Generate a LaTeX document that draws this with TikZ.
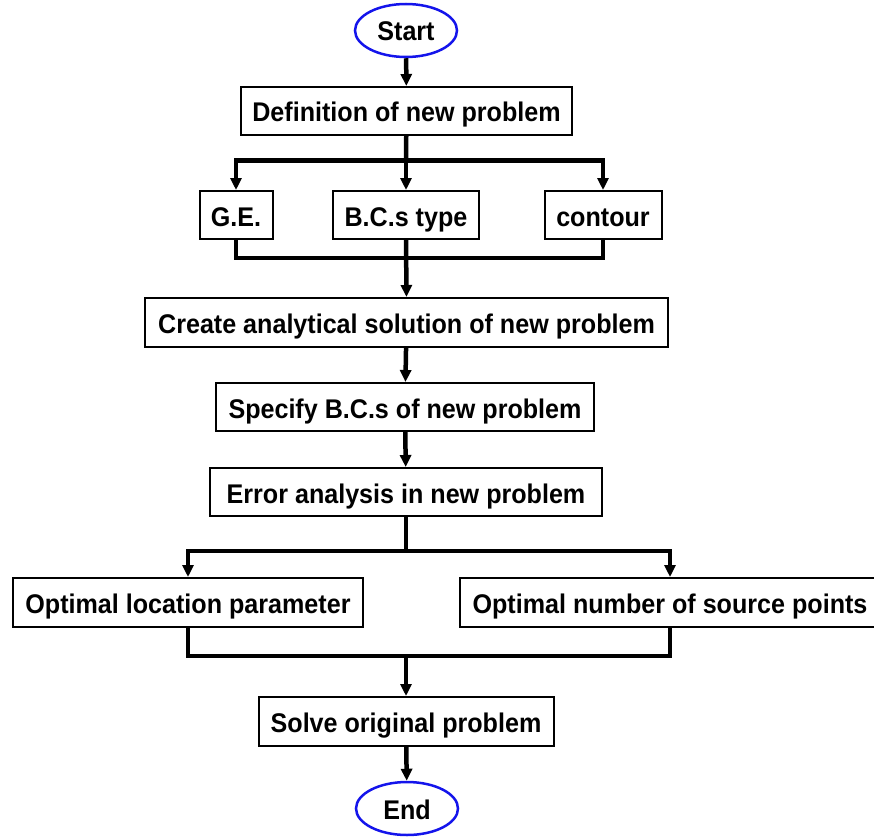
\documentclass[tikz,border=0pt]{standalone}
\usepackage{fontspec}
\setmainfont{Liberation Sans}[FakeStretch=0.93]
\usetikzlibrary{arrows.meta,shapes.geometric}
\tikzset{
  stepbox/.style={draw=black, line width=2pt, rectangle, inner sep=0pt, minimum height=48pt, text height=22pt, text depth=0pt, font=\fontsize{27}{30}\selectfont\bfseries},
  term/.style={draw={rgb,255:red,20;green,20;blue,235}, line width=2.5pt, ellipse, inner sep=0pt, minimum width=102pt, minimum height=53pt, text height=21pt, text depth=0pt, font=\fontsize{27}{30}\selectfont\bfseries},
  conn/.style={line width=4.5pt, line join=miter, line cap=butt},
  arr/.style={conn, -{Triangle[width=11pt,length=12pt]}},
}
\begin{document}
\begin{tikzpicture}[x=1pt,y=-1pt]
\useasboundingbox (0,0) rectangle (874,837);
\node[term] (start) at (406,30.5) {Start};
\node[stepbox, minimum width=331pt] (def) at (406.5,111) {Definition of new problem};
\node[stepbox, minimum width=73pt] (ge) at (236,215) {G.E.};
\node[stepbox, minimum width=146pt] (bcs) at (406,215) {B.C.s type};
\node[stepbox, minimum width=117pt] (contour) at (603,215) {contour};
\node[stepbox, minimum width=523pt, minimum height=49pt] (create) at (406.5,322.5) {Create analytical solution of new problem};
\node[stepbox, minimum width=378pt] (spec) at (405,407) {Specify B.C.s of new problem};
\node[stepbox, minimum width=392pt] (err) at (406,492) {Error analysis in new problem};
\node[stepbox, minimum width=350pt, minimum height=49pt] (olp) at (188,602.5) {Optimal location parameter};
\node[stepbox, minimum width=420pt, minimum height=49pt] (onsp) at (670,602.5) {Optimal number of source points};
\node[stepbox, minimum width=295pt, minimum height=49pt] (solve) at (406,721.5) {Solve original problem};
\node[term] (end) at (407,808.5) {End};

\coordinate (b1) at (406,160.7);
\coordinate (m1) at (406,258);
\coordinate (b2) at (406,551);
\coordinate (m2) at (406,656);

\draw[arr] (start) -- (def);
\draw[conn] (def) -- (b1);
\draw[arr] (b1) -| (ge.north);
\draw[arr] (b1) -| (contour.north);
\draw[arr] (b1) -- (bcs.north);
\draw[conn] (ge.south) |- (m1) -| (contour.south);
\draw[arr] (bcs.south) -- (create.north);
\draw[arr] (create) -- (spec);
\draw[arr] (spec) -- (err);
\draw[conn] (err) -- (b2);
\draw[arr] (b2) -| (olp.north);
\draw[arr] (b2) -| (onsp.north);
\draw[conn] (olp.south) |- (m2) -| (onsp.south);
\draw[arr] (m2) -- (solve.north);
\draw[arr] (solve) -- (end);
\end{tikzpicture}
\end{document}
